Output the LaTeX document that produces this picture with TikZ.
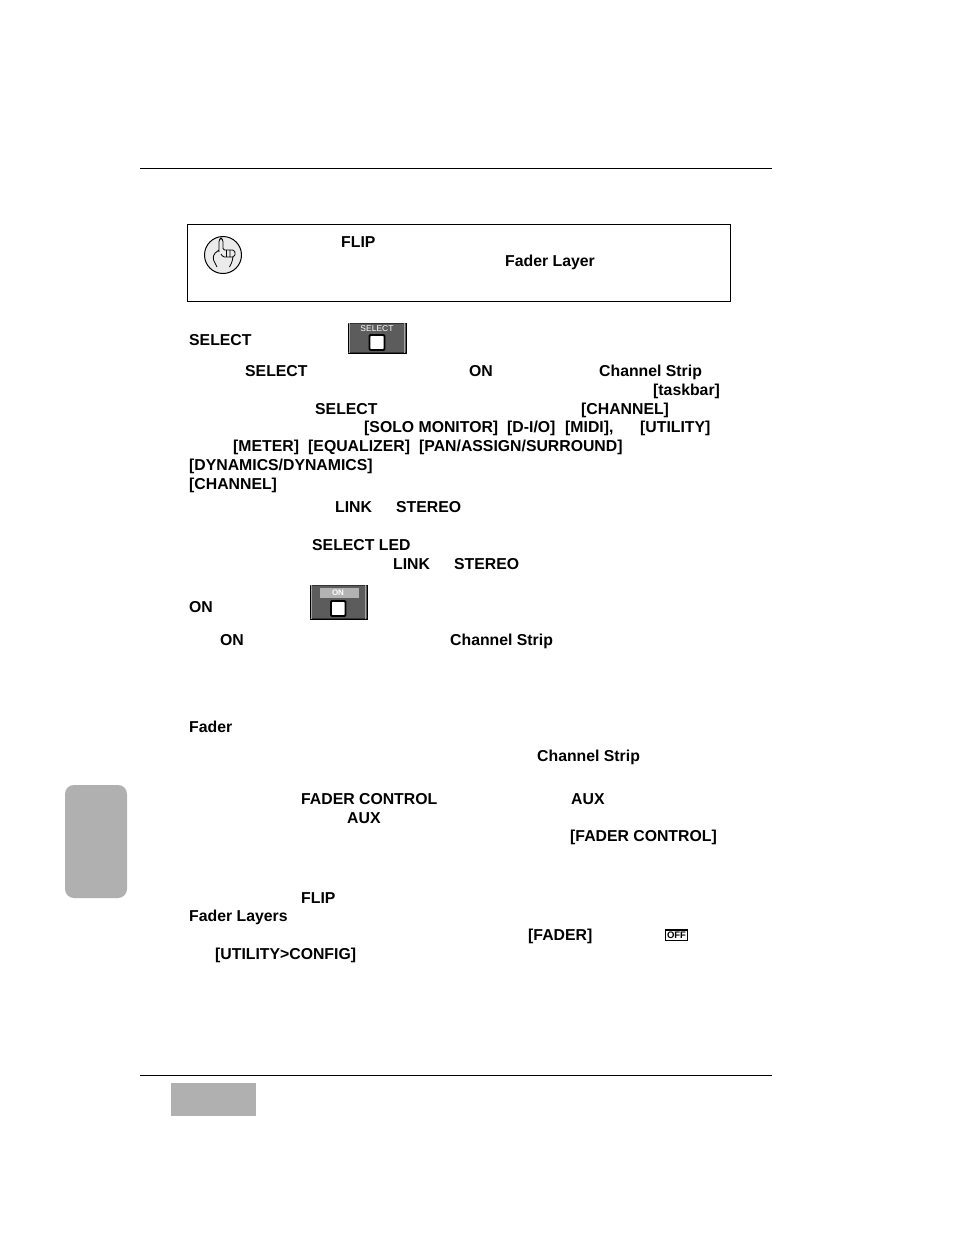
\documentclass[tikz,border=0pt]{standalone}
\usepackage{fontspec}
\setmainfont{Liberation Sans}
\definecolor{tabgray}{HTML}{B0B0B0}
\definecolor{btngray}{HTML}{5C5C5C}
\tikzstyle{lbl}=[inner sep=0, anchor=base west, text=black,
                font=\fontsize{15.8}{15.8}\selectfont\bfseries]
\tikzstyle{rule}=[draw=black, line width=1.3pt]
\tikzstyle{keycap}=[draw=black, fill=white, line width=1.8pt, rounded corners=1pt]
\tikzstyle{btn}=[fill=btngray]
\tikzstyle{btnedge}=[draw=white!65!black, line width=1.4pt]
\tikzstyle{btnline}=[draw=black!80, line width=.7pt]

\begin{document}
\begin{tikzpicture}[x=1pt,y=-1pt]
\path[use as bounding box] (0,0) rectangle (954,1235);
\fill[white] (0,0) rectangle (954,1235);
% page rules
\draw[rule] (140,168.5) -- (772,168.5);
\draw[rule] (140,1075.5) -- (772,1075.5);
% tab and page number field
\fill[tabgray, rounded corners=9pt] (65,785) rectangle (127,898);
\fill[tabgray] (171,1083) rectangle (256,1116);
% note box
\draw[black, line width=1pt] (187.5,224.5) rectangle (730.5,301);
% hand icon
\draw[black, fill=black!8, line width=1pt] (223,255) circle (18.5);
\draw[black, line width=.8pt, rounded corners=1.5pt]
  (219,252) -- (219,240) -- (221,238) -- (223,240) -- (223,250)
  -- (234,250) -- (235.5,253) -- (234,257) -- (223,257) -- (221,254)
  (226.5,250) -- (226.5,257) (230,250) -- (230,257)
  (219,250) -- (214,254) -- (213,259) -- (217,267)
  (233,257) -- (232,262) -- (229.5,267);
\node[lbl] (flip) at (341,247) {FLIP};
\node[lbl] (layer) at (505,266) {Fader Layer};
% SELECT section
\node[lbl] (select) at (189,345) {SELECT};
\draw[btn] (348,323) rectangle (406,353);
\draw[btnline] (348,323.4) -- (406,323.4) (348,352.7) -- (406,352.7);
\draw[btnedge] (349.5,323) -- (349.5,353) (404.5,323) -- (404.5,353);
\node[inner sep=0, text=white, font=\fontsize{8.5}{8.5}\selectfont] (selcap) at (377,328.5) {SELECT};
\draw[keycap] (369.5,335) rectangle (384.5,350);
\node[lbl] (sel1) at (245,376) {SELECT};
\node[lbl] (on1) at (469,376) {ON};
\node[lbl] (strip1) at (599,376) {Channel Strip};
\node[lbl] (task) at (653,395) {[taskbar]};
\node[lbl] (sel2) at (315,414) {SELECT};
\node[lbl] (chan1) at (581,414) {[CHANNEL]};
\node[lbl] (solo) at (364,432) {[SOLO MONITOR]};
\node[lbl] (dio) at (507,432) {[D-I/O]};
\node[lbl] (midi) at (565,432) {[MIDI],};
\node[lbl] (util) at (640,432) {[UTILITY]};
\node[lbl] (meter) at (233,451) {[METER]};
\node[lbl] (eq) at (308,451) {[EQUALIZER]};
\node[lbl] (pan) at (419,451) {[PAN/ASSIGN/SURROUND]};
\node[lbl] (dyn) at (189,470) {[DYNAMICS/DYNAMICS]};
\node[lbl] (chan2) at (189,489) {[CHANNEL]};
\node[lbl] (link1) at (335,512) {LINK};
\node[lbl] (st1) at (396,512) {STEREO};
\node[lbl] (led) at (312,550) {SELECT LED};
\node[lbl] (link2) at (393,569) {LINK};
\node[lbl] (st2) at (454,569) {STEREO};
% ON section
\node[lbl] (on2) at (189,612) {ON};
\draw[btn] (310,585) rectangle (367,619);
\draw[btnline] (310,585.4) -- (367,585.4) (310,618.6) -- (367,618.6);
\draw[btnedge] (311.5,585) -- (311.5,619) (365.5,585) -- (365.5,619);
\fill[black!30] (320,588) rectangle (359,598);
\node[inner sep=0, text=white, font=\fontsize{8}{8}\selectfont\bfseries] (oncap) at (338,593) {ON};
\draw[keycap] (331,601) rectangle (345.5,616);
\node[lbl] (on3) at (220,645) {ON};
\node[lbl] (strip2) at (450,645) {Channel Strip};
% Fader section
\node[lbl] (fader) at (189,732) {Fader};
\node[lbl] (strip3) at (537,761) {Channel Strip};
\node[lbl] (fctl1) at (301,804) {FADER CONTROL};
\node[lbl] (aux1) at (571,804) {AUX};
\node[lbl] (aux2) at (347,823) {AUX};
\node[lbl] (fctl2) at (570,841) {[FADER CONTROL]};
\node[lbl] (flip2) at (301,903) {FLIP};
\node[lbl] (layers) at (189,921) {Fader Layers};
\node[lbl] (fdr) at (528,940) {[FADER]};
\draw[black, line width=1.2pt, fill=white] (665.5,930) rectangle (687.5,940.5);
\node[inner sep=0, font=\fontsize{9.5}{9.5}\selectfont\bfseries] (off) at (676.5,935.3) {OFF};
\node[lbl] (cfg) at (215,959) {[UTILITY>CONFIG]};
\end{tikzpicture}
\end{document}
